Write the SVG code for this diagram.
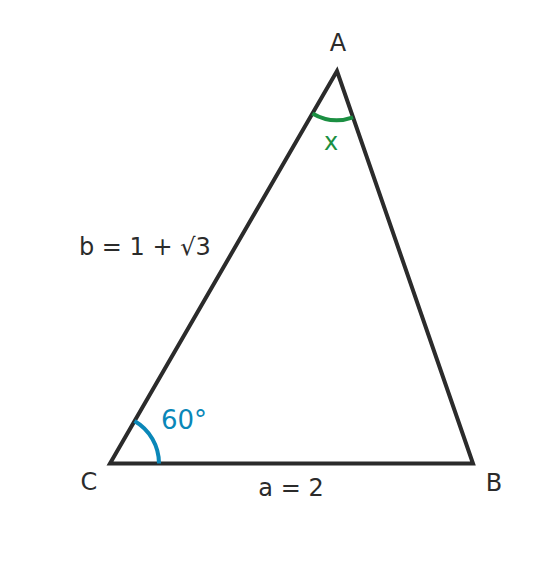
<svg xmlns="http://www.w3.org/2000/svg" width="545" height="576" viewBox="0 0 545 576">
<style>
text{font-family:"DejaVu Sans",sans-serif;font-size:24px;fill:#2b2b2b}
.side{fill:none;stroke:#2b2b2b;stroke-width:4;stroke-linejoin:miter}
.arc{fill:none;stroke-width:4}
</style>
<rect width="545" height="576" fill="#ffffff"/>
<g id="connectors">
<path class="side" d="M110,463.5 L473,463.5 L337,71 Z"/>
</g>
<g id="angleC">
<path class="arc" stroke="#0a87b8" d="M159,463.5 A49,49 0 0 0 134.5,421"/>
<text x="161" y="429" style="fill:#0a87b8;font-size:26px">60°</text>
</g>
<g id="angleA">
<path class="arc" stroke="#1b8f42" d="M312.4,113.4 A49,49 0 0 0 353.1,117.3"/>
<text x="331" y="150" text-anchor="middle" style="fill:#1b8f42">x</text>
</g>
<g id="A"><text x="338" y="51" text-anchor="middle">A</text></g>
<g id="B"><text x="494" y="491" text-anchor="middle">B</text></g>
<g id="C"><text x="89" y="490" text-anchor="middle">C</text></g>
<g id="sideA"><text x="291" y="496" text-anchor="middle">a = 2</text></g>
<g id="sideB"><text x="79" y="255">b = 1 + √3</text></g>
</svg>
